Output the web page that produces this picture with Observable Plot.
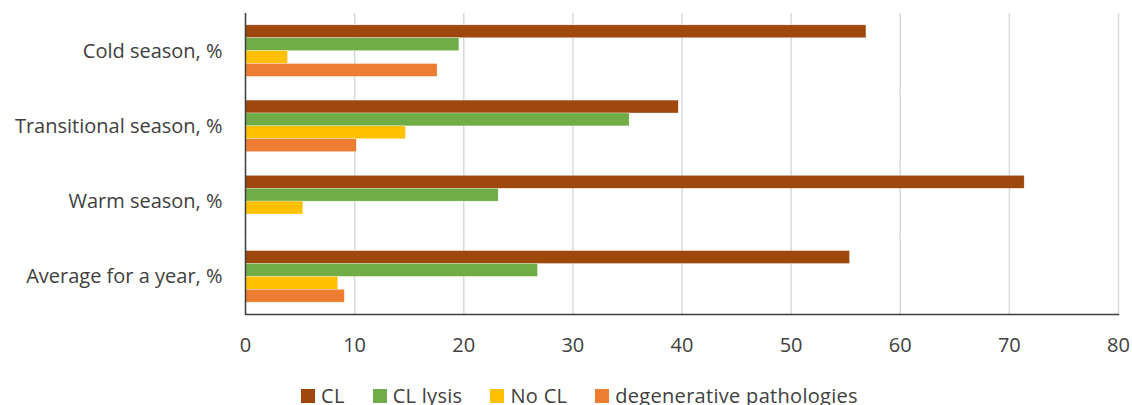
<!DOCTYPE html>
<html>
<head>
<meta charset="utf-8">
<script src="https://cdn.jsdelivr.net/npm/d3@7"></script>
<script src="https://cdn.jsdelivr.net/npm/@observablehq/plot@0.6"></script>
<style>
  html, body { margin: 0; padding: 0; background: #fff; }
  body { width: 1132px; height: 405px; overflow: hidden; font-family: "Open Sans", sans-serif; color: #404040; position: relative; }
  #legend { position: absolute; left: 301px; top: 383px; display: flex; font-size: 20px; letter-spacing: 0.3px; line-height: 26px; white-space: nowrap; }
  #legend span.item { display: flex; align-items: center; margin-right: 28px; }
  #legend span.sw { display: inline-block; width: 14px; height: 14px; margin-right: 6px; }
</style>
</head>
<body>
<div id="chart"></div>
<div id="legend"></div>
<script>
const categories = ["Cold season, %", "Transitional season, %", "Warm season, %", "Average for a year, %"];
const seriesNames = ["CL", "CL lysis", "No CL", "degenerative pathologies"];
const seriesColors = ["#9E480E", "#70AD47", "#FFC000", "#ED7D31"];
const clValues = [56.9, 39.7, 71.4, 55.4];
const clLysisValues = [19.6, 35.2, 23.2, 26.8];
const noClValues = [3.9, 14.7, 5.3, 8.5];
const degenerativeValues = [17.6, 10.2, null, 9.1];
const xTicks = [0, 10, 20, 30, 40, 50, 60, 70, 80];

const seriesValues = [clValues, clLysisValues, noClValues, degenerativeValues];
const data = [];
categories.forEach((c, i) => {
  seriesNames.forEach((s, j) => {
    const v = seriesValues[j][i];
    if (v != null) data.push({category: c, series: s, value: v});
  });
});
const lastCategory = categories[categories.length - 1];

const chart = Plot.plot({
  width: 1132,
  height: 370,
  marginLeft: 245,
  marginRight: 14,
  marginTop: 13,
  marginBottom: 56,
  style: {fontFamily: "'Open Sans', sans-serif", fontSize: "20px", color: "#404040", background: "#fff"},
  x: {domain: [0, 80], ticks: xTicks, label: null},
  y: {domain: seriesNames, axis: null, paddingInner: 0, paddingOuter: 0.92, round: false},
  fy: {domain: categories, padding: 0, label: null, round: false},
  color: {domain: seriesNames, range: seriesColors},
  marks: [
    Plot.gridX(xTicks, {stroke: "#d9d9d9", strokeOpacity: 1, strokeWidth: 1.5}),
    Plot.barX(data, {x: "value", y: "series", fy: "category", fill: "series", stroke: "#fff", strokeWidth: 0.5, strokeOpacity: 0.6}),
    Plot.ruleX([0], {stroke: "#404040", strokeWidth: 1.5}),
    Plot.frame({anchor: "bottom", fy: () => lastCategory, stroke: "#404040", strokeWidth: 1.5}),
    Plot.axisX(xTicks, {tickSize: 0, tickPadding: 23, label: null, fontSize: 20, fill: "#404040"}),
    Plot.axisFy({anchor: "left", tickSize: 0, tickPadding: 23, label: null, fontSize: 20, fill: "#404040"})
  ]
});
document.getElementById("chart").appendChild(chart);

const legend = document.getElementById("legend");
seriesNames.forEach((s, i) => {
  const item = document.createElement("span");
  item.className = "item";
  const sw = document.createElement("span");
  sw.className = "sw";
  sw.style.background = seriesColors[i];
  item.appendChild(sw);
  item.appendChild(document.createTextNode(s));
  legend.appendChild(item);
});
</script>
</body>
</html>
